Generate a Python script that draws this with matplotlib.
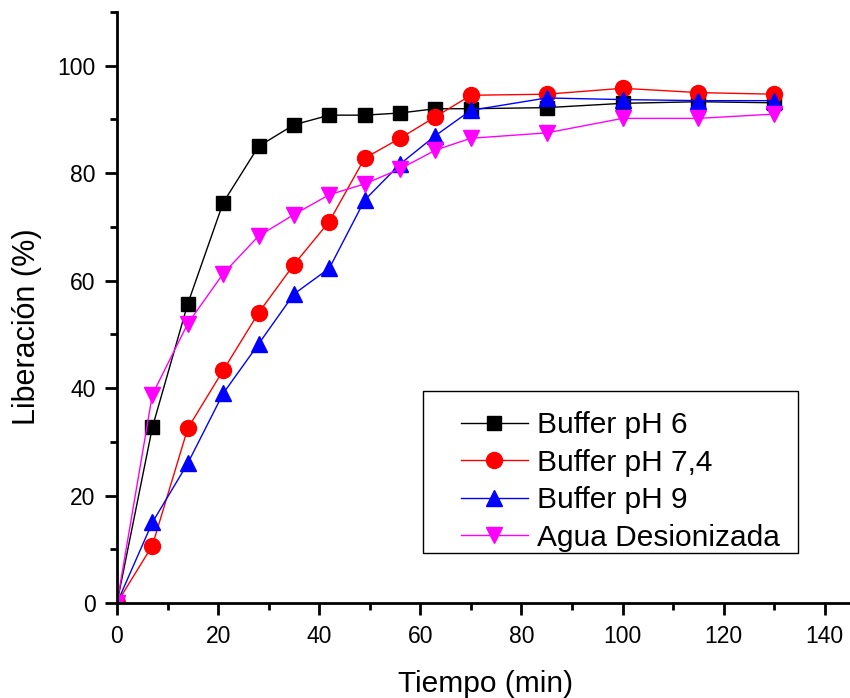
import matplotlib.pyplot as plt
from matplotlib.ticker import MultipleLocator
from matplotlib.patches import Rectangle

plt.rcParams['font.family'] = ['Liberation Sans', 'DejaVu Sans']

tiempo = [0, 7, 14, 21, 28, 35, 42, 49, 56, 63, 70, 85, 100, 115, 130]
ph6 = [0, 32.7, 55.7, 74.5, 85.0, 89.0, 90.8, 90.8, 91.2, 92.0, 92.0, 92.2, 93.0, 93.3, 93.1]
ph74 = [0, 10.7, 32.5, 43.3, 54.0, 63.0, 71.0, 82.8, 86.5, 90.5, 94.5, 94.7, 95.8, 95.0, 94.7]
ph9 = [0, 15.0, 26.0, 39.0, 48.2, 57.5, 62.3, 75.0, 81.7, 87.0, 91.7, 94.0, 93.7, 93.5, 93.5]
agua = [0, 38.8, 52.0, 61.3, 68.3, 72.3, 76.0, 78.0, 80.8, 84.3, 86.5, 87.5, 90.2, 90.2, 91.0]

W, H = 850, 698
fig = plt.figure(figsize=(W / 100, H / 100), dpi=100)
ax = fig.add_axes([117 / W, 1 - 603 / H, 733 / W, 591 / H])

ax.plot(tiempo, ph6, color='black', marker='s', ms=10.5, lw=1, label='Buffer pH 6')
ax.plot(tiempo, ph74, color='red', marker='o', ms=11.5, lw=1, label='Buffer pH 7,4')
ax.plot(tiempo, ph9, color='blue', marker='^', ms=11.5, lw=1, label='Buffer pH 9')
ax.plot(tiempo, agua, color='magenta', marker='v', ms=11.5, lw=1, label='Agua Desionizada')

ax.set_xlim(0, 145)
ax.set_ylim(0, 110)
ax.xaxis.set_major_locator(MultipleLocator(20))
ax.xaxis.set_minor_locator(MultipleLocator(10))
ax.yaxis.set_major_locator(MultipleLocator(20))
ax.yaxis.set_minor_locator(MultipleLocator(10))
ax.tick_params(which='major', length=8.5, width=2, labelsize=16.5, direction='out', pad=7)
ax.tick_params(which='minor', length=5, width=2, direction='out')
for s in ['top', 'right']:
    ax.spines[s].set_visible(False)
for s in ['left', 'bottom']:
    ax.spines[s].set_linewidth(2)

ax.set_xlabel('Tiempo (min)', fontsize=21.5, va='center')
ax.set_ylabel('Liberación (%)', fontsize=22, va='center')
ax.xaxis.set_label_coords((486 - 117) / 733, (603 - 684) / 591)
ax.yaxis.set_label_coords((27 - 117) / 733, (603 - 327) / 591)

# legend frame drawn by hand, entries placed inside
ax.add_patch(Rectangle((423 / W, 1 - 553 / H), 375 / W, 162 / H,
                       transform=fig.transFigure, facecolor='white',
                       edgecolor='black', lw=1, zorder=4.5, clip_on=False))
leg = ax.legend(loc='upper left', bbox_to_anchor=(461 / W, 1 - 411 / H),
                bbox_transform=fig.transFigure, fontsize=21.5, frameon=False,
                handlelength=2.24, handletextpad=0.3, borderpad=0,
                labelspacing=0.32, borderaxespad=0)
leg.set_zorder(6)

plt.savefig('out.png', dpi=100)
